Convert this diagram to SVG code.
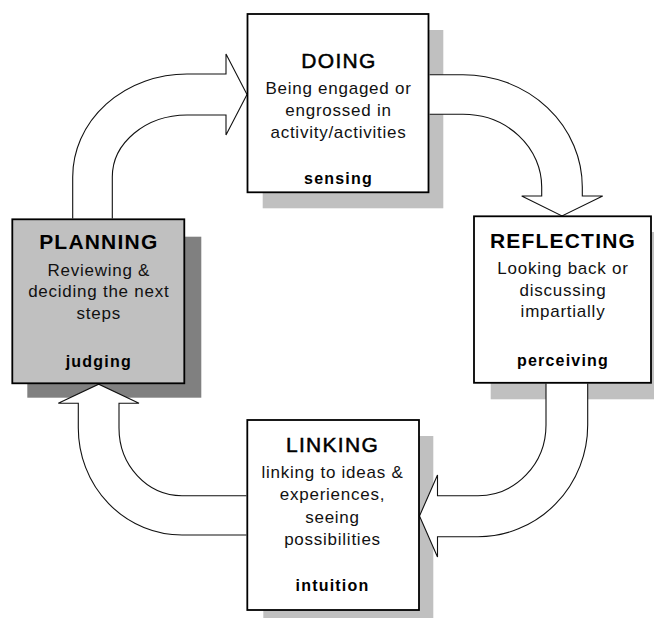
<svg xmlns="http://www.w3.org/2000/svg" width="654" height="618" viewBox="0 0 654 618">
<style>
.box{fill:#fff;stroke:#000;stroke-width:1.8}
.grey{fill:#c0c0c0}
.shadow{fill:#c0c0c0}
.dshadow{fill:#808080}
.arrow{fill:#fff;stroke:#111;stroke-width:1.1;stroke-linejoin:miter}
text{font-family:"Liberation Sans",Arial,sans-serif;text-anchor:middle;fill:#000}
.t{font-size:21px;letter-spacing:1.3px;stroke:#000;stroke-width:0.5px}
.tb{font-size:21px;font-weight:bold;letter-spacing:1.2px}
.b{font-size:17px;letter-spacing:0.75px;fill:#111}
.k{font-size:16px;font-weight:bold;letter-spacing:1.2px}
</style>
<rect width="654" height="618" fill="#fff"/>
<g id="shadows">
<rect class="shadow" x="262.7" y="30" width="180.6" height="178.3"/>
<rect class="shadow" x="490.7" y="232" width="180" height="167.3"/>
<rect class="dshadow" x="27.3" y="236.7" width="174" height="161"/>
<rect class="shadow" x="263.3" y="436" width="170" height="190"/>
</g>
<g id="connectors">
<path class="arrow" d="M72.7,218.4 L72.7,177 A114.3,103 0 0 1 187,74 L226,74 L226,54 L247,94.5 L226,135 L226,115 L187,115 A75,62 0 0 0 112.3,177 L112.3,218.4"/>
<path class="arrow" d="M429.6,74.7 L463,74.7 A119.3,112.3 0 0 1 582.3,187 L582.3,196 L602.7,196 L562,216 L521.7,196 L541.7,196 L541.7,187 A78.7,72.7 0 0 0 463,114.3 L429.6,114.3"/>
<path class="arrow" d="M587.7,383.6 L587.7,425 A109.7,111.7 0 0 1 478,536.7 L437.5,536.7 L437.5,557 L419.5,516 L437.5,475 L437.5,495.7 L478,495.7 A68,70.7 0 0 0 546,425 L546,383.6"/>
<path class="arrow" d="M246.4,535 L182,535 A103.7,107 0 0 1 78.3,428 L78.3,403.3 L58.3,403.3 L98.7,384.2 L139,403.3 L119,403.3 L119,428 A63,67.7 0 0 0 182,495.7 L246.4,495.7"/>
</g>
<g id="doing">
<rect class="box" x="247.5" y="14" width="181" height="178.3"/>
<text class="t" x="339" y="68.3">DOING</text>
<text class="b" x="338.5" y="94.3">Being engaged or</text>
<text class="b" x="338.5" y="116">engrossed in</text>
<text class="b" x="338.5" y="137.7">activity/activities</text>
<text class="k" x="338.5" y="184">sensing</text>
</g>
<g id="reflecting">
<rect class="box" x="474" y="216.3" width="177" height="166.5"/>
<text class="tb" x="563" y="248.3">REFLECTING</text>
<text class="b" x="563" y="274">Looking back or</text>
<text class="b" x="563" y="295.7">discussing</text>
<text class="b" x="563" y="317.3">impartially</text>
<text class="k" x="563" y="366">perceiving</text>
</g>
<g id="planning">
<rect class="box grey" x="12.3" y="219.3" width="172" height="164"/>
<text class="tb" x="98.8" y="249.3">PLANNING</text>
<text class="b" x="98.8" y="275.7">Reviewing &amp;</text>
<text class="b" x="98.8" y="297.3">deciding the next</text>
<text class="b" x="98.8" y="319">steps</text>
<text class="k" x="98.8" y="366.7">judging</text>
</g>
<g id="linking">
<rect class="box" x="247.3" y="420" width="171.7" height="190"/>
<text class="t" x="332.5" y="452.3">LINKING</text>
<text class="b" x="332.5" y="477.7">linking to ideas &amp;</text>
<text class="b" x="332.5" y="500">experiences,</text>
<text class="b" x="332.5" y="522.5">seeing</text>
<text class="b" x="332.5" y="545">possibilities</text>
<text class="k" x="332.5" y="591">intuition</text>
</g>
</svg>
